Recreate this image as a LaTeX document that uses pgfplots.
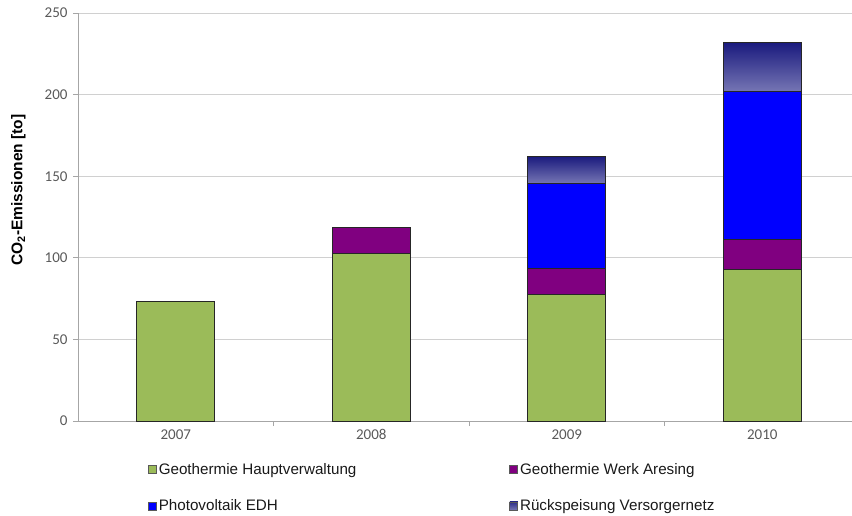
\documentclass[border=0pt]{standalone}
\usepackage{pgfplots}
\pgfplotsset{compat=1.18}
\usepackage{fontspec}
\setmainfont{Liberation Sans}
\newfontfamily\tickfont{Carlito}
\definecolor{cgreen}{HTML}{9BBB59}
\definecolor{cpurple}{HTML}{800080}
\definecolor{cblue}{HTML}{0000FF}
\definecolor{ctop}{RGB}{26,26,126}
\definecolor{cbot}{RGB}{118,118,180}
\definecolor{cgrid}{HTML}{D0D0D0}
\definecolor{caxis}{HTML}{A6A6A6}
\definecolor{ctick}{HTML}{595959}
\pgfplotsset{
  mylegend/.style={legend image code/.code={\draw[##1, draw=black!65, line width=0.6pt] (0pt,-4pt) rectangle (8pt,4pt);}},
  geom/.style={at={(78pt,94pt)}, anchor=south west,
    scale only axis, width=774pt, height=408pt,
    ybar stacked, bar width=78pt,
    xmin=-0.5, xmax=3.459, ymin=0, ymax=250},
}
\begin{document}
\begin{tikzpicture}
\begin{axis}[
  geom,
  xtick={0,1,2,3}, xticklabels={2007,2008,2009,2010},
  minor x tick num=1,
  major x tick style={draw=none},
  minor x tick style={draw=caxis, line width=0.8pt},
  ytick={0,50,100,150,200,250},
  ymajorgrids, grid style={cgrid, line width=0.8pt},
  axis x line*=bottom, axis y line*=left,
  axis line style={caxis, line width=0.8pt, -},
  tick align=outside, major tick length=5pt, minor tick length=5pt,
  tick style={caxis, line width=0.8pt},
  tick label style={font=\tickfont\fontsize{15}{15}\selectfont, text=ctick},
  yticklabel style={xshift=-2pt},
  /pgf/number format/assume math mode=true,
  ylabel={\textbf{CO\textsubscript{2}-Emissionen [to]}},
  every axis y label/.style={at={(rel axis cs:-0.077,0.566)}, rotate=90, anchor=center, font=\fontsize{15.5}{15.5}\selectfont},
  every axis plot post/.append style={mylegend},
  legend columns=2,
  legend style={draw=none, fill=none, at={(rel axis cs:0.0904,0)}, anchor=north west, yshift=-40pt,
    font=\fontsize{15.2}{15.2}\selectfont, text=black!90, inner sep=0pt,
    /tikz/every even column/.append style={column sep=151pt}, row sep=20pt, cells={anchor=west}},
]
\addplot[fill=cgreen, draw=black!85, line width=0.9pt] coordinates {(0,73.5) (1,102.7) (2,77.4) (3,92.7)};
\addplot[fill=cpurple, draw=black!85, line width=0.9pt] coordinates {(0,0) (1,15.7) (2,15.9) (3,18.7)};
\addplot[fill=cblue, draw=black!85, line width=0.9pt] coordinates {(0,0) (1,0) (2,52.2) (3,90.4)};
\addlegendimage{mylegend, top color=ctop!80!cbot, bottom color=cbot}
\legend{Geothermie Hauptverwaltung, Geothermie Werk Aresing, Photovoltaik EDH, Rückspeisung Versorgernetz}
\end{axis}
% Rückspeisung Versorgernetz, 2009 (stacked on 145.5 = 77.4+15.9+52.2)
\begin{axis}[geom, hide axis]
\addplot[draw=none, fill=none] coordinates {(2,145.5)};
\addplot[top color=ctop, bottom color=cbot, draw=black!85, line width=0.9pt] coordinates {(2,16.7)};
\end{axis}
% Rückspeisung Versorgernetz, 2010 (stacked on 201.8 = 92.7+18.7+90.4)
\begin{axis}[geom, hide axis]
\addplot[draw=none, fill=none] coordinates {(3,201.8)};
\addplot[top color=ctop, bottom color=cbot, draw=black!85, line width=0.9pt] coordinates {(3,30.2)};
\end{axis}
\pgfresetboundingbox
\useasboundingbox (0,0) rectangle (852pt,515pt);
\end{tikzpicture}
\end{document}
